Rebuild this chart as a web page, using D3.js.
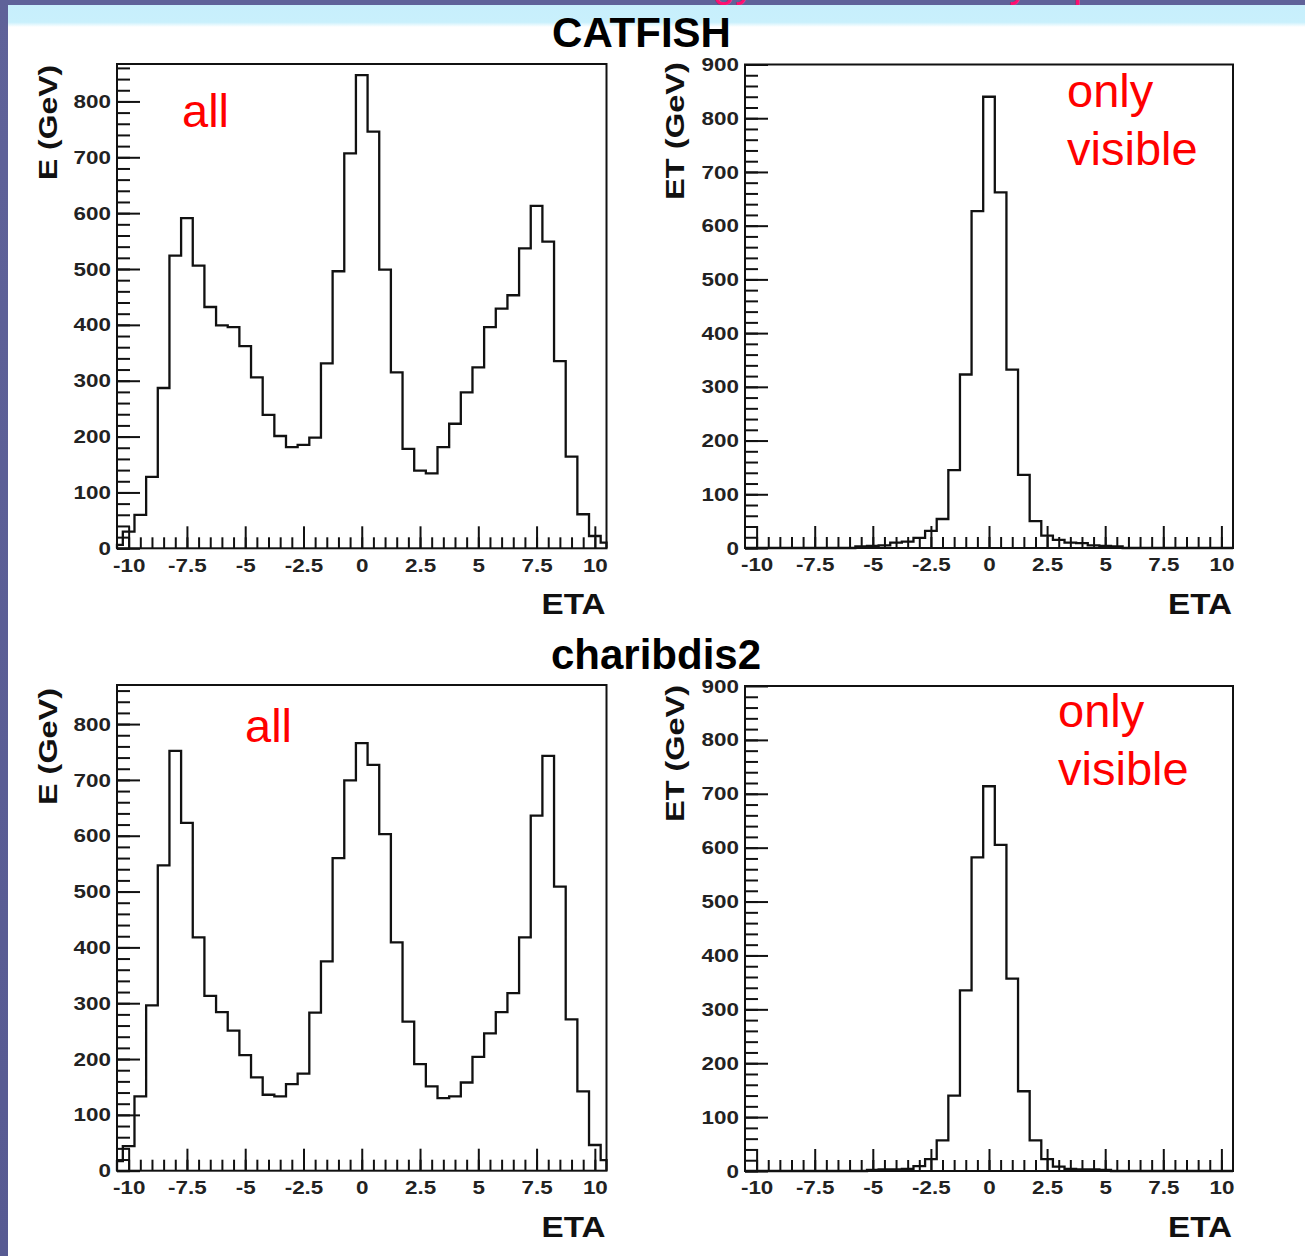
<!DOCTYPE html>
<html><head><meta charset="utf-8">
<script src="https://cdn.jsdelivr.net/npm/d3@7"></script>
<style>
body{margin:0;background:#fff;}
svg{display:block;}
text{font-family:"Liberation Sans",Arial,Helvetica,sans-serif;}
</style></head><body>
<svg id="c" width="1305" height="1256"></svg>
<script>
// ---- data (bins of width 0.5 centred on these eta values) ----
const etaCenters = [-10.5,-10,-9.5,-9,-8.5,-8,-7.5,-7,-6.5,-6,-5.5,-5,-4.5,-4,-3.5,-3,-2.5,-2,-1.5,-1,-0.5,0,
  0.5,1,1.5,2,2.5,3,3.5,4,4.5,5,5.5,6,6.5,7,7.5,8,8.5,9,9.5,10,10.5];
const catfishAll = [6,30,60,128,287,524,591,506,432,399,396,362,306,239,201,181,185,198,331,496,707,847,
  746,499,315,178,139,134,181,223,279,324,396,429,453,537,613,549,335,164,61,22,10];
const catfishVisible = [0,0,0,0,0,0,0,0,0,0,3,4,5,10,12,19,32,54,145,323,627,840,
  662,332,136,50,23,15,10,9,5,4,3,0,0,0,0,0,0,0,0,0,0];
const charibdisAll = [17,44,133,296,547,752,623,418,313,284,251,207,167,136,133,155,174,283,375,560,699,766,
  727,603,409,267,191,151,130,133,158,204,246,284,318,418,636,743,509,271,142,46,19];
const charibdisVisible = [0,0,0,0,0,0,0,0,0,0,0,2,3,3,4,9,22,57,140,335,582,714,
  605,357,148,57,22,8,4,3,3,2,0,0,0,0,0,0,0,0,0,0,0];
const xTickValues = [-10,-7.5,-5,-2.5,0,2.5,5,7.5,10];
const xTickLabels = ["-10","-7.5","-5","-2.5","0","2.5","5","7.5","10"];
const allTickValues = [0,100,200,300,400,500,600,700,800];
const visTickValues = [0,100,200,300,400,500,600,700,800,900];
const generatorTitles = ["CATFISH","charibdis2"];
const yTitleAll = "E (GeV)";
const yTitleVis = "ET (GeV)";
const xTitle = "ETA";
const noteAll = ["all"];
const noteVis = ["only","visible"];

// ---- layout ----
const panels = [
  {values:catfishAll, left:117, right:606.5, top:64, bottom:548.3, ymax:867, yticks:allTickValues,
   ytitle:yTitleAll, ytX:57, ytY:65, ytLen:115, note:noteAll, noteX:182, noteY:[126.5], etaY:614},
  {values:catfishVisible, left:745, right:1233, top:64.5, bottom:548, ymax:900, yticks:visTickValues,
   ytitle:yTitleVis, ytX:684, ytY:62, ytLen:138, note:noteVis, noteX:1067, noteY:[107,165], etaY:614},
  {values:charibdisAll, left:117, right:606.5, top:685, bottom:1170.7, ymax:870, yticks:allTickValues,
   ytitle:yTitleAll, ytX:57, ytY:688, ytLen:117, note:noteAll, noteX:245, noteY:[741.5], etaY:1237},
  {values:charibdisVisible, left:745, right:1233, top:686, bottom:1171, ymax:900, yticks:visTickValues,
   ytitle:yTitleVis, ytX:684, ytY:685, ytLen:137, note:noteVis, noteX:1058, noteY:[727,785], etaY:1237}
];

const svg = d3.select("#c");
const defs = svg.append("defs");
const bg = defs.append("linearGradient").attr("id","band").attr("x1",0).attr("x2",0).attr("y1",0).attr("y2",1);
bg.append("stop").attr("offset","0").attr("stop-color","#c7effc");
bg.append("stop").attr("offset","0.78").attr("stop-color","#c9f0fc");
bg.append("stop").attr("offset","1").attr("stop-color","#ffffff");
const pg = defs.append("linearGradient").attr("id","purp").attr("x1",0).attr("x2",0).attr("y1",0).attr("y2",1);
pg.append("stop").attr("offset","0").attr("stop-color","#5f6299");
pg.append("stop").attr("offset","1").attr("stop-color","#575a92");

svg.append("rect").attr("width",1305).attr("height",1256).attr("fill","#fff");
svg.append("rect").attr("x",0).attr("y",0).attr("width",1305).attr("height",5).attr("fill","#5f6299");
svg.append("rect").attr("x",8).attr("y",5).attr("width",1297).attr("height",22).attr("fill","url(#band)");
svg.append("rect").attr("x",0).attr("y",0).attr("width",8).attr("height",1256).attr("fill","url(#purp)");

// clipped slide title (only descenders visible)
const slideTitle = svg.append("text").attr("y",-3).attr("font-size",40).attr("fill","#ff1070");
slideTitle.append("tspan").attr("x",755).attr("text-anchor","end").text("Energy");
slideTitle.append("tspan").attr("x",1029).attr("text-anchor","end").text("by");
slideTitle.append("tspan").attr("x",1073).attr("text-anchor","start").text("p");

function stretch(sel, f){
  sel.each(function(){
    const L = this.getComputedTextLength();
    this.setAttribute("textLength", L*f);
    this.setAttribute("lengthAdjust","spacingAndGlyphs");
  });
}

// generator titles
svg.append("text").attr("x",641.5).attr("y",46.7).attr("text-anchor","middle")
  .attr("font-size",42).attr("font-weight","bold").attr("fill","#000").text(generatorTitles[0]);
svg.append("text").attr("x",656).attr("y",669).attr("text-anchor","middle")
  .attr("font-size",42).attr("font-weight","bold").attr("fill","#000").text(generatorTitles[1]);

panels.forEach(p => {
  const x = d3.scaleLinear().domain([-10.5,10.5]).range([p.left,p.right]);
  const y = d3.scaleLinear().domain([0,p.ymax]).range([p.bottom,p.top]);
  const g = svg.append("g");

  // histogram
  const pts = [[-10.5,0]];
  etaCenters.forEach((c,i) => pts.push([Math.max(c-0.25,-10.5), p.values[i]]));
  pts.push([10.5, p.values[p.values.length-1]]);
  pts.push([10.5, 0]);
  const line = d3.line().x(d=>x(d[0])).y(d=>y(d[1])).curve(d3.curveStepAfter);
  g.append("path").attr("d",line(pts)).attr("fill","none").attr("stroke","#111")
    .attr("stroke-width",2.3).attr("stroke-linejoin","miter");

  // minor x ticks
  const xMinor = g.append("g").attr("transform",`translate(0,${p.bottom})`)
    .call(d3.axisBottom(x).tickValues(d3.range(-10,10.01,0.5)).tickSize(-11).tickFormat(""));
  xMinor.select(".domain").remove();
  xMinor.selectAll("line").attr("stroke","#111").attr("stroke-width",2);
  // major x ticks + labels
  const xMajor = g.append("g").attr("transform",`translate(0,${p.bottom})`)
    .call(d3.axisBottom(x).tickValues(xTickValues).tickSize(-22).tickPadding(10)
      .tickFormat((d,i)=>xTickLabels[i]));
  xMajor.select(".domain").remove();
  xMajor.selectAll("line").attr("stroke","#111").attr("stroke-width",2);
  xMajor.selectAll("text").attr("font-size",19).attr("font-weight","bold").attr("fill","#222")
    .attr("font-family","'Liberation Sans',Arial,sans-serif");
  stretch(xMajor.selectAll("text"),1.18);

  // minor y ticks
  const yMinor = g.append("g").attr("transform",`translate(${p.left},0)`)
    .call(d3.axisLeft(y).tickValues(d3.range(0,p.ymax,20)).tickSize(-13).tickFormat(""));
  yMinor.select(".domain").remove();
  yMinor.selectAll("line").attr("stroke","#111").attr("stroke-width",2);
  const yMajor = g.append("g").attr("transform",`translate(${p.left},0)`)
    .call(d3.axisLeft(y).tickValues(p.yticks).tickSize(-23).tickPadding(6).tickFormat(d3.format("d")));
  yMajor.select(".domain").remove();
  yMajor.selectAll("line").attr("stroke","#111").attr("stroke-width",2);
  yMajor.selectAll("text").attr("font-size",19).attr("font-weight","bold").attr("fill","#222")
    .attr("font-family","'Liberation Sans',Arial,sans-serif");
  stretch(yMajor.selectAll("text"),1.18);

  // frame
  g.append("rect").attr("x",p.left).attr("y",p.top).attr("width",p.right-p.left).attr("height",p.bottom-p.top)
    .attr("fill","none").attr("stroke","#111").attr("stroke-width",2);

  // axis titles
  g.append("text").attr("transform",`translate(${p.ytX},${p.ytY}) rotate(-90)`).attr("text-anchor","end")
    .attr("font-size",26).attr("font-weight","bold").attr("fill","#111")
    .attr("textLength",p.ytLen).attr("lengthAdjust","spacingAndGlyphs").text(p.ytitle);
  g.append("text").attr("x",p.right-1).attr("y",p.etaY).attr("text-anchor","end")
    .attr("font-size",30).attr("font-weight","bold").attr("fill","#111")
    .attr("textLength",64).attr("lengthAdjust","spacingAndGlyphs").text(xTitle);

  // red note
  p.note.forEach((t,i) => {
    g.append("text").attr("x",p.noteX).attr("y",p.noteY[i]).attr("font-size",47)
      .attr("fill","#ff0000").text(t);
  });
});
</script>
</body></html>
